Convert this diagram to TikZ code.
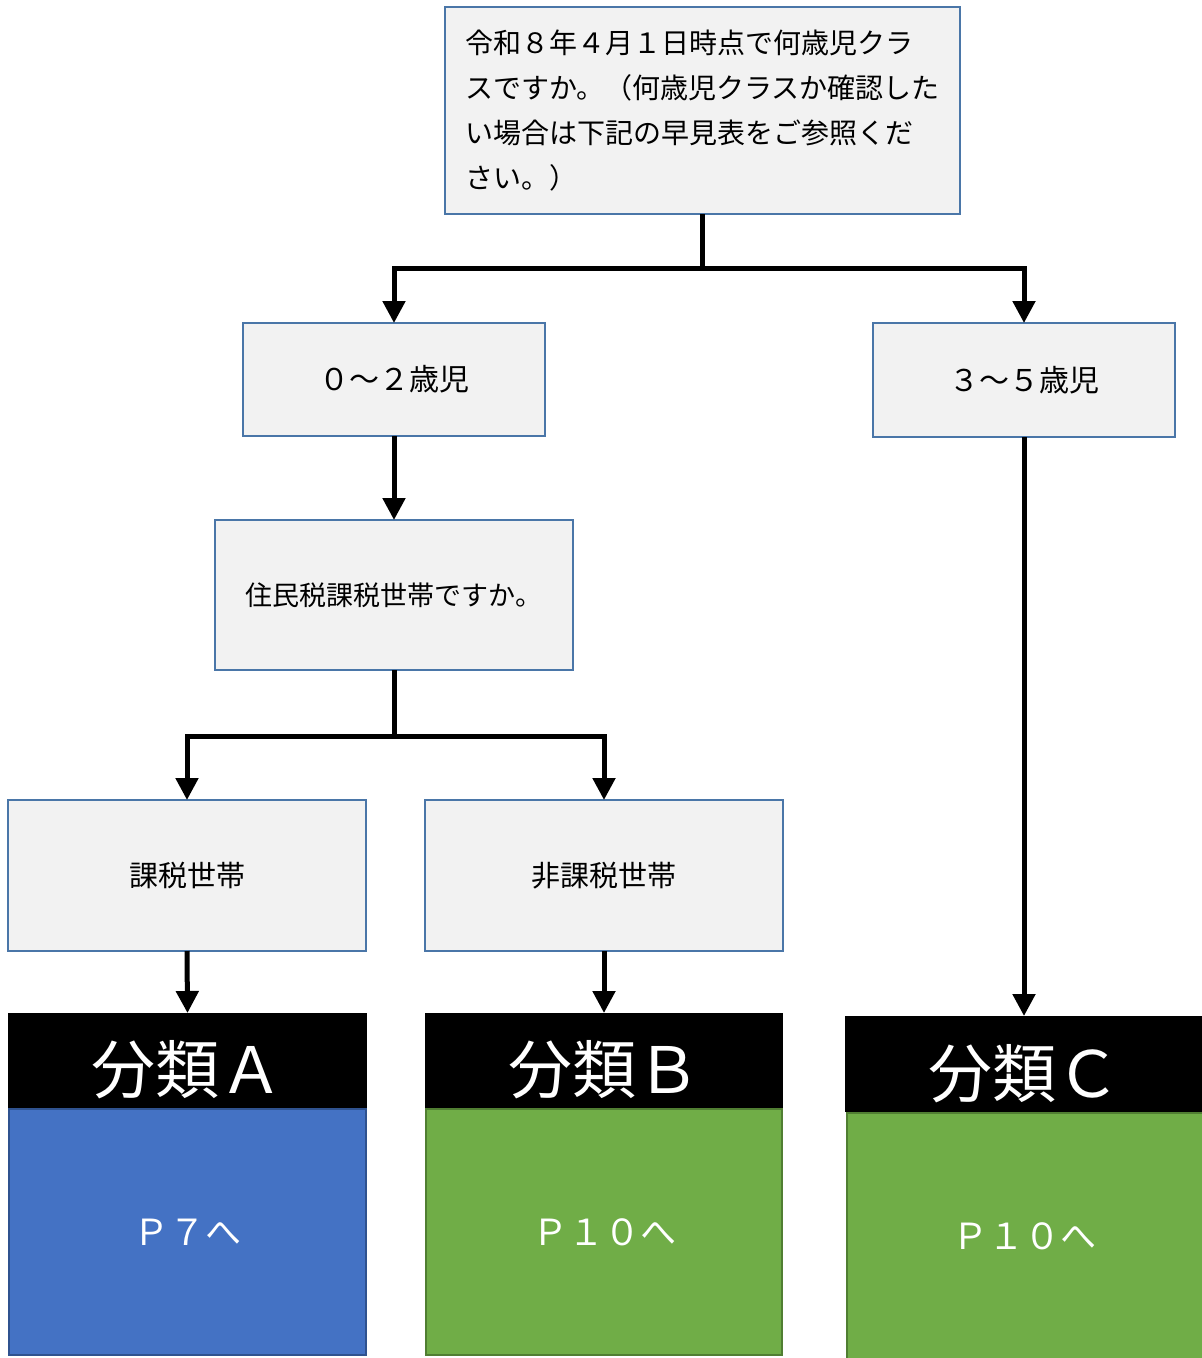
\documentclass[tikz,border=0pt]{standalone}
\usepackage{fontspec}
\setmainfont{Noto Sans CJK JP}
\usetikzlibrary{arrows.meta}
\definecolor{boxfill}{HTML}{F2F2F2}
\definecolor{boxline}{HTML}{4A76A8}
\definecolor{blueA}{HTML}{4472C4}
\definecolor{blueAline}{HTML}{2F528F}
\definecolor{greenB}{HTML}{70AD47}
\definecolor{greenBline}{HTML}{507E32}
\newcommand{\lowtxt}[1]{\raisebox{-9pt}[56pt][8pt]{#1}}
\tikzset{
  qbox/.style={draw=boxline, fill=boxfill, line width=2pt, rectangle, inner sep=0pt, outer sep=0pt},
  hdr/.style={fill=black, text=white, rectangle, inner sep=0pt, outer sep=0pt, font=\fontsize{64}{70}\selectfont},
  body/.style={rectangle, line width=2pt, text=white, inner sep=0pt, outer sep=0pt, font=\fontsize{36}{40}\selectfont},
  conn/.style={line width=5pt, black, line join=miter},
  arr/.style={conn, -{Triangle[width=22pt,length=22pt]}}
}
\begin{document}
\begin{tikzpicture}[x=1pt,y=-1pt]
\useasboundingbox (0,0) rectangle (1202,1358);
\node[qbox, minimum width=515pt, minimum height=207pt, text width=475pt, align=left,
      font=\fontsize{28}{45}\selectfont] (top) at (702.5,110.5)
  {令和８年４月１日時点で何歳児クラ\\スですか。（何歳児クラスか確認した\\い場合は下記の早見表をご参照くだ\\さい。）};
\node[qbox, minimum width=302pt, minimum height=113pt, font=\fontsize{30}{34}\selectfont] (b02) at (394,379.5) {０～２歳児};
\node[qbox, minimum width=302pt, minimum height=114pt, font=\fontsize{30}{34}\selectfont] (b35) at (1024,380) {３～５歳児};
\node[qbox, minimum width=358pt, minimum height=150pt, font=\fontsize{27}{32}\selectfont] (q2) at (394,595) {住民税課税世帯ですか。};
\node[qbox, minimum width=358pt, minimum height=151pt, font=\fontsize{29}{34}\selectfont] (ka) at (187,875.5) {課税世帯};
\node[qbox, minimum width=358pt, minimum height=151pt, font=\fontsize{29}{34}\selectfont] (hika) at (604,875.5) {非課税世帯};
% categories
\node[hdr, minimum width=359pt, minimum height=95pt] (hA) at (187.5,1060.5) {\lowtxt{分類Ａ}};
\node[body, draw=blueAline, fill=blueA, minimum width=357pt, minimum height=246pt] (bA) at (187.5,1232) {Ｐ７へ};
\node[hdr, minimum width=358pt, minimum height=95pt] (hB) at (604,1060.5) {\lowtxt{分類Ｂ}};
\node[body, draw=greenBline, fill=greenB, minimum width=356pt, minimum height=246pt] (bB) at (604,1232) {Ｐ１０へ};
\node[hdr, minimum width=358pt, minimum height=96pt] (hC) at (1024,1064) {\lowtxt{分類Ｃ}};
\node[body, draw=greenBline, fill=greenB, minimum width=356pt, minimum height=246pt] (bC) at (1024.5,1236) {Ｐ１０へ};
% connectors
\coordinate (j1) at (702.5,268);
\coordinate (j2) at (394,736);
\draw[conn] (top.south) -- (j1);
\draw[arr] (j1) -| (b02.north);
\draw[arr] (j1) -| (b35.north);
\draw[arr] (b02.south) -- (q2.north);
\draw[conn] (q2.south) -- (j2);
\draw[arr] (j2) -| (ka.north);
\draw[arr] (j2) -| (hika.north);
\draw[arr] (b35.south) -- (hC.north);
\draw[arr] (ka.south) -- (hA.north);
\draw[arr] (hika.south) -- (hB.north);
\end{tikzpicture}
\end{document}
